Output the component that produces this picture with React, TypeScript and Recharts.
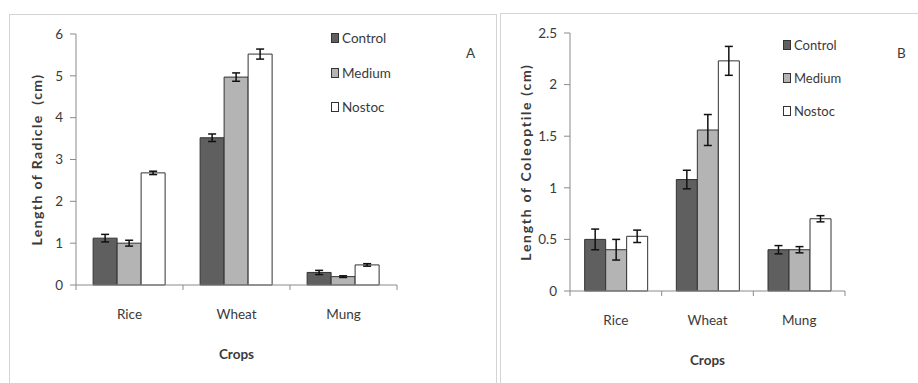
import React from 'react';
import { BarChart, Bar, XAxis, YAxis, ErrorBar, Legend, Label } from 'recharts';

const categories = ['Rice', 'Wheat', 'Mung'];
const seriesNames = ['Control', 'Medium', 'Nostoc'];
const seriesColors = ['#5f5f5f', '#b4b4b4', '#ffffff'];

const radicleControl = [1.12, 3.52, 0.3];
const radicleControlErr = [0.09, 0.09, 0.05];
const radicleMedium = [1.0, 4.97, 0.2];
const radicleMediumErr = [0.07, 0.1, 0.02];
const radicleNostoc = [2.68, 5.52, 0.48];
const radicleNostocErr = [0.04, 0.12, 0.03];

const coleoptileControl = [0.5, 1.08, 0.4];
const coleoptileControlErr = [0.1, 0.09, 0.04];
const coleoptileMedium = [0.4, 1.56, 0.4];
const coleoptileMediumErr = [0.1, 0.15, 0.03];
const coleoptileNostoc = [0.53, 2.23, 0.7];
const coleoptileNostocErr = [0.06, 0.14, 0.03];

const radicleTicks = [0, 1, 2, 3, 4, 5, 6];
const coleoptileTicks = [0, 0.5, 1, 1.5, 2, 2.5];

const radicleData = categories.map((c, i) => ({
  crop: c,
  Control: radicleControl[i], ControlErr: radicleControlErr[i],
  Medium: radicleMedium[i], MediumErr: radicleMediumErr[i],
  Nostoc: radicleNostoc[i], NostocErr: radicleNostocErr[i],
}));
const coleoptileData = categories.map((c, i) => ({
  crop: c,
  Control: coleoptileControl[i], ControlErr: coleoptileControlErr[i],
  Medium: coleoptileMedium[i], MediumErr: coleoptileMediumErr[i],
  Nostoc: coleoptileNostoc[i], NostocErr: coleoptileNostocErr[i],
}));

const FONT = 'Lato, "Open Sans", sans-serif';
const TEXT = '#3a3a3a';
const AXIS = '#8a8a8a';

const makeLegend = (spacing: number, fontSize: number) => (props: any) => {
  const payload = props.payload || [];
  return (
    <div style={{ fontFamily: FONT, fontSize, color: TEXT }}>
      {payload.map((p: any) => (
        <div key={p.value} style={{ display: 'flex', alignItems: 'center', height: 20, marginBottom: spacing - 20 }}>
          <span style={{ display: 'inline-block', width: 6, height: 8, background: p.color, border: '1px solid #333', marginRight: 3 }} />
          <span>{p.value}</span>
        </div>
      ))}
    </div>
  );
};

// Category tick: label at the band centre, tick marks at band boundaries (Excel style)
const CategoryTick = (props: any) => {
  const { x, y, payload, visibleTicksCount } = props;
  const half = payload && typeof payload.offset === 'number' ? payload.offset : 0;
  const isLast = payload.index === (visibleTicksCount ?? categories.length) - 1;
  return (
    <g>
      <line x1={x - half} x2={x - half} y1={y} y2={y + 5} stroke={AXIS} strokeWidth={1} />
      {isLast && <line x1={x + half} x2={x + half} y1={y} y2={y + 5} stroke={AXIS} strokeWidth={1} />}
      <text x={x} y={y + 24} dy="0.71em" textAnchor="middle" fill={TEXT} fontSize={13.5} fontFamily={FONT}>
        {payload.value}
      </text>
    </g>
  );
};

function Panel(props: {
  data: any[]; ticks: number[]; max: number; yLabel: string; left: number; letterSpacing: number;
  margin: any; yWidth: number; legendLeft: number; legendTop: number; spacing: number; legendFont: number; yLabelDx: number;
}) {
  const { data, ticks, max, yLabel, left, margin, yWidth, legendLeft, legendTop, spacing, legendFont, yLabelDx, letterSpacing } = props;
  return (
    <div style={{ position: 'absolute', left, top: 0 }}>
      <BarChart width={460} height={383} data={data} margin={margin} barCategoryGap="16%" barGap={0}>
        <XAxis dataKey="crop" height={80} interval={0}
          axisLine={{ stroke: AXIS }} tickLine={false} tickSize={0} tickMargin={0} tick={<CategoryTick />}>
          <Label value="Crops" position="insideBottom" offset={6} style={{ fill: TEXT, fontSize: 13.5, fontFamily: FONT, fontWeight: 'bold' }} />
        </XAxis>
        <YAxis domain={[0, max]} ticks={ticks} width={yWidth} axisLine={{ stroke: AXIS }} tickLine={{ stroke: AXIS }}
          tickSize={6} tickMargin={7} tick={{ fill: TEXT, fontSize: 13.5, fontFamily: FONT }} interval={0}>
          <Label value={yLabel} angle={-90} position="center" dx={yLabelDx}
            style={{ fill: TEXT, fontSize: 14, fontFamily: FONT, fontWeight: 'bold', textAnchor: 'middle', letterSpacing }} />
        </YAxis>
        <Legend layout="vertical" verticalAlign="middle" align="center"
          wrapperStyle={{ left: legendLeft, top: legendTop, width: 'auto', height: 'auto' }}
          content={makeLegend(spacing, legendFont)} />
        {seriesNames.map((s, i) => (
          <Bar key={s} dataKey={s} name={s} fill={seriesColors[i]} stroke="#333" strokeWidth={1} isAnimationActive={false}>
            <ErrorBar dataKey={s + 'Err'} width={4} stroke="#111" strokeWidth={1.5} direction="y" />
          </Bar>
        ))}
      </BarChart>
    </div>
  );
}

export default function App() {
  return (
    <div style={{ position: 'absolute', left: 0, top: 0, width: 918, height: 383, background: '#fff', overflow: 'hidden', fontFamily: FONT }}>
      <div style={{ position: 'absolute', left: 9, top: 14, width: 486, height: 400, borderLeft: '1.5px solid #d4d4d4', borderTop: '1.5px solid #d4d4d4', borderRight: '1.5px solid #d4d4d4' }} />
      <div style={{ position: 'absolute', left: 500, top: 13, width: 430, height: 400, borderLeft: '1.5px solid #d4d4d4', borderTop: '1.5px solid #d4d4d4' }} />
      <Panel data={radicleData} ticks={radicleTicks} max={6} yLabel={'Length of Radicle\u00a0\u00a0(cm)'} left={0}
        margin={{ top: 34, right: 63, bottom: 18, left: 0 }} yWidth={76} letterSpacing={1.4}
        legendLeft={331} legendTop={28} spacing={34.5} legendFont={13.5} yLabelDx={-1} />
      <Panel data={coleoptileData} ticks={coleoptileTicks} max={2.5} yLabel="Length of Coleoptile (cm)" left={458}
        margin={{ top: 33, right: 73, bottom: 12, left: 0 }} yWidth={112} letterSpacing={1.7}
        legendLeft={325} legendTop={35} spacing={33} legendFont={13} yLabelDx={12} />
      <div style={{ position: 'absolute', left: 466, top: 45, fontSize: 13.5, color: TEXT }}>A</div>
      <div style={{ position: 'absolute', left: 897, top: 45, fontSize: 13.5, color: TEXT }}>B</div>
    </div>
  );
}
